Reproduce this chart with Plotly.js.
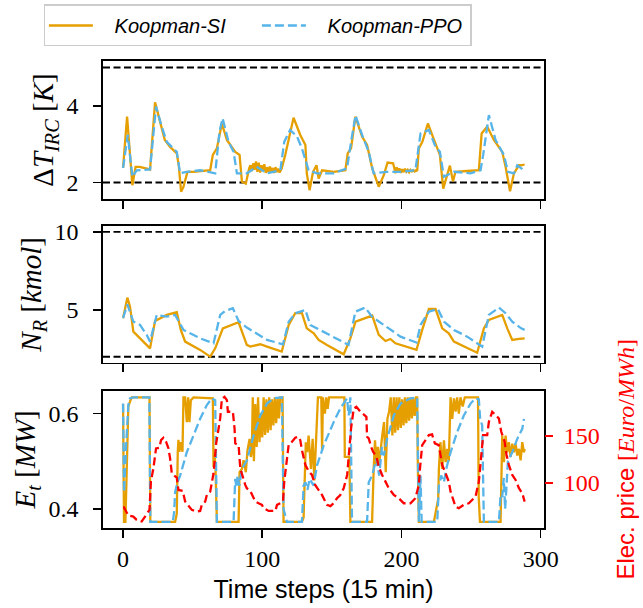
<!DOCTYPE html>
<html>
<head>
<meta charset="utf-8">
<script src="https://cdn.plot.ly/plotly-3.0.1.min.js"></script>
<style>html,body{margin:0;padding:0;background:#fff;}#chart{width:643px;height:608px;}</style>
</head>
<body>
<div id="chart"></div>
<script>
// ---- Data (time step, value) ----
const seriesNames = ['Koopman-SI', 'Koopman-PPO'];
const xTicks = [0, 100, 200, 300];
const dTLimits = [2, 5];
const nLimits = [2, 10];

const siDT = [[0,2.38],[2.9,3.72],[6.7,1.93],[9,2.41],[12,2.41],[19.4,2.34],[23,4.09],[26.6,3.59],[30,3.11],[33.8,2.93],[38.6,2.76],[40,2.45],[41.7,1.76],[43.4,1.89],[46.3,2.28],[50.6,2.28],[62.6,2.32],[64.5,2.72],[67.4,2.89],[71,3.54],[74.6,3.11],[80.6,2.80],[83.7,2.72],[85.4,2.02],[88.2,1.97],[90.6,2.37],[91.5,2.45],[92.5,2.30],[93.5,2.50],[94.5,2.33],[95.5,2.55],[96.5,2.28],[97.5,2.52],[98.5,2.26],[99.5,2.45],[100.5,2.30],[101.5,2.48],[102.5,2.25],[103.5,2.40],[104.5,2.27],[105.5,2.42],[106.5,2.28],[107.5,2.38],[108.5,2.25],[109.5,2.40],[110.5,2.27],[111.5,2.36],[112.5,2.26],[113.5,2.35],[114,2.37],[116.5,2.72],[122.5,3.69],[127.3,3.24],[131,2.98],[132,2.24],[134,1.80],[136.5,2.28],[139,2.45],[140.5,2.10],[143,2.32],[151.3,2.28],[159.7,2.32],[161.4,2.76],[163.8,2.89],[166.9,3.72],[171.7,3.20],[175.3,2.98],[179,2.37],[183.7,1.89],[187.3,2.19],[190,2.52],[194,2.50],[195.7,2.24],[196.5,2.40],[197.5,2.28],[198.5,2.37],[199.5,2.25],[200.5,2.35],[201.5,2.27],[202.5,2.36],[203.5,2.28],[204.5,2.33],[205.5,2.27],[206.5,2.33],[207.5,2.29],[208.5,2.32],[209.5,2.29],[210.5,2.32],[211.3,2.30],[212.5,2.89],[215,3.06],[219,3.54],[223,3.15],[227.6,2.72],[230,1.84],[232.9,2.19],[234.8,2.44],[237,2.03],[238.8,2.28],[247,2.30],[255.6,2.32],[257.6,3.28],[261.6,3.46],[266.4,3.11],[272.4,2.80],[274.8,2.41],[278,1.77],[280.8,2.24],[284.4,2.45],[286,2.45],[288.5,2.47]];

const ppoDT = [[0,2.38],[3.4,3.24],[6.7,2.15],[9.8,2.32],[19.4,2.34],[23.7,3.98],[27.8,3.46],[31.4,3.06],[38.6,2.80],[41,2.24],[45.8,2.28],[55.4,2.32],[66.2,2.24],[69.3,3.33],[71.5,3.68],[75.8,3.06],[79.4,2.80],[81.8,2.24],[89,2.24],[96,2.41],[103.4,2.24],[113,2.32],[115.8,3.06],[120,3.37],[125,3.20],[128.5,2.89],[133.3,2.32],[139.3,2.24],[151.3,2.24],[160.9,2.37],[163.8,3.06],[167,3.75],[171.7,3.24],[176.5,2.80],[180,2.24],[189.7,2.28],[199,2.28],[210,2.32],[213.7,3.28],[219.7,3.37],[224.5,2.93],[227.6,2.80],[230.5,2.15],[237.7,2.28],[249.6,2.24],[256.8,2.32],[258.7,2.72],[262.8,3.76],[267.6,3.11],[273.6,2.72],[276.5,2.28],[280.8,2.24],[283.2,2.45],[288,2.32]];

const siN = [[0,4.47],[3.1,5.79],[5,5.21],[7.4,3.61],[19.4,2.54],[23,4.29],[31.4,4.68],[38.6,4.85],[41.5,3.72],[44.6,2.97],[55.4,2.44],[62.6,2.01],[66.2,2.54],[71.7,3.82],[83,4.21],[88.9,2.76],[91.4,2.65],[95,2.72],[98.6,2.80],[103.4,2.65],[114,2.33],[119,4.04],[123.7,4.79],[128.5,4.79],[132,3.82],[137,3.50],[140.5,3.08],[146.5,2.76],[158.5,2.16],[163.3,3.18],[167,4.25],[179,4.64],[183.7,3.40],[188.5,3.01],[192,3.14],[195.7,2.86],[210.8,2.44],[214.9,3.72],[219.7,5.06],[224.5,5.06],[229.3,3.82],[234,3.50],[237.7,2.97],[254.4,2.26],[259.2,3.82],[262.8,4.36],[272.4,4.68],[276,3.82],[279.6,3.08],[284.4,3.14],[288.5,3.18]];

const ppoN = [[0,4.47],[3.1,5.36],[7.4,4.25],[12.2,4.04],[17,3.40],[19.4,2.97],[24.2,4.68],[31.4,4.57],[37.4,4.68],[43.4,3.72],[55.4,3.18],[65,2.86],[69.8,4.68],[73.4,4.94],[78.9,5.11],[83,4.29],[88.9,3.87],[103.4,3.08],[114.9,2.80],[119,4.25],[123.7,4.79],[131,5.00],[134.5,4.04],[146.5,3.50],[162,2.76],[166.9,4.89],[174,5.15],[178.8,4.57],[187.3,4.04],[199.3,3.29],[210.8,2.91],[213.7,4.04],[219.7,4.89],[226.2,5.06],[230.5,4.25],[237.7,3.72],[247.2,3.29],[258,2.65],[262.8,4.68],[270,5.15],[274.8,4.79],[279.6,4.25],[286,3.82],[288.5,3.72]];

const siE = [[0,0.62],[0.7,0.373],[1.7,0.373],[2.7,0.50],[3.8,0.615],[5,0.625],[6.2,0.634],[19,0.634],[19.6,0.373],[37.4,0.373],[38.6,0.39],[39.3,0.52],[39.8,0.545],[40.5,0.52],[41.5,0.54],[42.7,0.52],[43.4,0.634],[44.6,0.634],[45.8,0.582],[46.8,0.634],[47.7,0.582],[48.7,0.628],[50.6,0.634],[64.5,0.632],[65,0.488],[65.7,0.519],[66.4,0.488],[67.4,0.373],[83,0.373],[83.7,0.477],[85.4,0.484],[86.6,0.502],[88.2,0.477],[89.4,0.523],[90.9,0.547],[91.8,0.509],[92.5,0.52],[93.2,0.634],[94,0.50],[95,0.62],[96,0.53],[97,0.634],[98,0.54],[99,0.60],[100,0.55],[101,0.634],[102,0.555],[103,0.63],[104,0.56],[105,0.634],[106,0.565],[107,0.63],[108,0.575],[109,0.634],[110,0.58],[111,0.634],[112,0.59],[113,0.634],[114.6,0.634],[115.3,0.373],[128.5,0.373],[129.7,0.382],[130.5,0.456],[131.3,0.54],[132.3,0.519],[133.3,0.554],[135,0.484],[136.2,0.547],[137.4,0.460],[139.3,0.618],[140,0.634],[142.4,0.634],[143,0.523],[143.6,0.634],[145,0.60],[146,0.634],[147,0.61],[148,0.634],[159,0.634],[159.3,0.509],[162.6,0.509],[163.3,0.373],[178.9,0.373],[180.1,0.488],[181,0.544],[182,0.491],[183,0.53],[184,0.495],[185,0.526],[186.2,0.554],[187.5,0.582],[188.7,0.477],[189.9,0.589],[191.1,0.604],[192.3,0.634],[193.5,0.554],[194.5,0.634],[195.5,0.56],[196.5,0.634],[197.5,0.565],[198.5,0.634],[199.5,0.57],[200.5,0.63],[201.5,0.575],[202.5,0.634],[203.5,0.58],[204.5,0.634],[205.5,0.585],[206.5,0.634],[207.5,0.59],[208.5,0.634],[209.5,0.595],[210.5,0.634],[211.3,0.634],[211.8,0.484],[212.5,0.373],[223.3,0.373],[226.4,0.421],[226.9,0.484],[228,0.540],[229.3,0.484],[230.5,0.544],[231.7,0.498],[232.9,0.526],[234,0.50],[235.3,0.634],[236.5,0.589],[237.7,0.632],[238.9,0.604],[240,0.634],[241.2,0.60],[242.4,0.634],[244,0.615],[245.5,0.634],[255,0.634],[255.5,0.425],[256.4,0.373],[271.2,0.373],[272.4,0.554],[273.6,0.498],[274.8,0.554],[276,0.519],[277.2,0.54],[278.4,0.509],[279.6,0.537],[280.8,0.519],[282,0.537],[283.2,0.512],[284.4,0.526],[285.6,0.502],[286.8,0.54],[288,0.519],[288.5,0.526]];

const ppoE = [[0,0.621],[0.7,0.435],[2.2,0.533],[3.8,0.618],[5,0.632],[7.4,0.634],[18.9,0.634],[19.6,0.373],[35.7,0.373],[36.7,0.393],[37.4,0.435],[39.1,0.456],[41,0.470],[45.8,0.519],[50.6,0.554],[55.4,0.589],[60.2,0.618],[63.8,0.632],[66.2,0.628],[67.4,0.373],[79.4,0.373],[80.6,0.463],[81.5,0.445],[82.3,0.470],[83.5,0.449],[85.4,0.484],[89,0.502],[93.8,0.554],[98.6,0.596],[103.4,0.621],[108.2,0.632],[114.1,0.634],[115.3,0.400],[117.7,0.373],[128.5,0.373],[129.7,0.449],[131,0.456],[132.5,0.440],[134,0.463],[136.9,0.449],[139.3,0.491],[144.1,0.533],[151.3,0.582],[156.1,0.611],[160.9,0.632],[162.1,0.596],[163.3,0.634],[164.5,0.373],[175.3,0.373],[176.5,0.456],[178.9,0.470],[180.5,0.490],[182,0.505],[184,0.470],[186,0.530],[187.3,0.512],[189.7,0.547],[194.5,0.596],[199.3,0.621],[206.5,0.632],[211.3,0.634],[212.5,0.373],[213.7,0.470],[214.5,0.373],[225.7,0.373],[226.9,0.449],[228.5,0.470],[230.5,0.456],[232.5,0.488],[235.3,0.519],[240,0.561],[244.8,0.596],[249.6,0.621],[253.2,0.632],[255.6,0.630],[256.5,0.590],[258,0.575],[259.2,0.373],[270,0.373],[271.2,0.430],[272.4,0.425],[273.5,0.465],[274.5,0.400],[276.5,0.500],[279.6,0.519],[283.2,0.547],[286.8,0.568],[288,0.589]];

const price = [[0,74],[0.7,74],[3.8,65.5],[7.4,64.4],[9.8,60.9],[13.4,59.2],[15.8,64.4],[19,71.5],[20,101.4],[21.8,115.5],[23.7,136.6],[26.1,137.3],[27.3,145.4],[29,147.9],[30.9,143.7],[32.6,136.6],[33.8,126],[35,110.2],[36.2,108.5],[38.6,105.6],[39.8,92.6],[42.9,91.5],[44.6,80.3],[46.3,76.8],[49.4,71.5],[53,69.7],[55.4,70.4],[56.6,76.8],[59,80.3],[60.2,87.3],[62.6,90.8],[65,110.2],[66.9,141.9],[69.8,168.3],[71,189.4],[72.9,191.2],[74.6,187.7],[75.3,175.4],[78.9,175.4],[80.1,157.7],[80.6,141.9],[83,140.1],[84.2,115.5],[87.8,97.9],[88.9,94.4],[91.4,91.5],[95,80.3],[97.4,78.5],[99.8,76.8],[101,73.2],[104.6,70.4],[109.4,70.4],[110.6,76.8],[113,78.5],[114.9,80.3],[115.8,101.4],[117.3,122.5],[119,140.8],[121.4,143.7],[123.7,147.9],[126.1,148.9],[127.3,145.4],[128.5,134.9],[131,119],[133.3,112.7],[135.7,108.5],[138,97.9],[140.5,92.6],[142.9,87.3],[146.5,76.8],[149,75.5],[151.3,78.5],[153.7,83.8],[156.1,87.3],[158.5,94.4],[161,108.5],[162.8,140.1],[163.8,157.7],[165.7,178.9],[167.6,180.6],[170.5,175.4],[173,171.8],[174.8,170.1],[175.3,148.9],[176.5,147.2],[178.2,138.4],[179.6,133.1],[182,127.8],[183.7,117.3],[186.1,108.5],[188.5,101.4],[190.9,94.4],[194.5,87.3],[198.1,83.8],[201.7,78.5],[206.5,78.5],[210,83.8],[212.5,97.9],[213.2,113.7],[214.9,140.1],[217.3,145.4],[219.7,150.7],[222,151.4],[224,141.9],[226.8,140.1],[229.3,119],[231.7,110.2],[234,101.4],[235.3,90.8],[238.8,75],[241.2,73.2],[244.8,76.8],[248.4,78.5],[250.8,82],[253.2,85.6],[255.6,101.4],[256.8,122.5],[258.7,150.7],[261.6,150.7],[262.8,164.8],[265.2,175.4],[267.6,171.8],[270,168.3],[271.7,154.2],[274.1,143.7],[275.5,129.6],[277.2,119],[279.6,108.5],[282,103.2],[284.4,94.4],[286.8,89.1],[288.5,80.3]];

// ---- Styling ----
const ORANGE = '#E69F00', BLUE = '#56B4E9', RED = '#FF0000';
const SERIF = 'Liberation Serif, DejaVu Serif, serif';
const SANS = 'Liberation Sans, Arial, sans-serif';
const xs = a => a.map(p => p[0]);
const ys = a => a.map(p => p[1]);

function line(data, name, color, dash, xa, ya, show) {
  return {
    type: 'scatter', mode: 'lines', x: xs(data), y: ys(data),
    name: '&nbsp;&nbsp;&nbsp;<i>' + name + '</i>', legendgroup: name, showlegend: show,
    xaxis: xa, yaxis: ya,
    line: {color: color, width: 2.3, dash: dash},
    hoverinfo: 'skip'
  };
}
const SI_DASH = 'solid', PPO_DASH = '9px,4px';
const traces = [
  line(siDT, seriesNames[0], ORANGE, SI_DASH, 'x', 'y', true),
  line(ppoDT, seriesNames[1], BLUE, PPO_DASH, 'x', 'y', true),
  line(siN, seriesNames[0], ORANGE, SI_DASH, 'x2', 'y2', false),
  line(ppoN, seriesNames[1], BLUE, PPO_DASH, 'x2', 'y2', false),
  line(siE, seriesNames[0], ORANGE, SI_DASH, 'x3', 'y3', false),
  line(ppoE, seriesNames[1], BLUE, PPO_DASH, 'x3', 'y3', false),
  Object.assign(line(price, 'Elec. price', RED, '8px,4px', 'x3', 'y4', false), {name: 'Elec. price'})
];

const tickFont = {family: SERIF, size: 24, color: '#000'};
function xAxis(anchor, labels) {
  return {
    anchor: anchor, domain: [0, 1], range: [-14.4, 302.4],
    tickvals: xTicks, ticktext: xTicks.map(String), showticklabels: labels,
    ticks: 'outside', ticklen: 8, tickwidth: 1.6, tickcolor: '#000',
    showline: true, mirror: true, linecolor: '#000', linewidth: 1.8,
    showgrid: false, zeroline: false, tickfont: tickFont
  };
}
function yAxis(anchor, domain, range, tickvals, title) {
  return {
    anchor: anchor, domain: domain, range: range, tickvals: tickvals,
    ticks: 'outside', ticklen: 8, tickwidth: 1.6, tickcolor: '#000', ticklabelstandoff: 10,
    showline: true, mirror: true, linecolor: '#000', linewidth: 1.8,
    showgrid: false, zeroline: false, tickfont: tickFont,
    title: {text: title, font: {family: SERIF, size: 29, color: '#000'}, standoff: 4}
  };
}

const limitShapes = [];
dTLimits.forEach(v => limitShapes.push({type: 'line', xref: 'x domain', x0: 0, x1: 1, yref: 'y', y0: v, y1: v, layer: 'below', line: {color: '#000', width: 1.8, dash: '7px,3.5px'}}));
nLimits.forEach(v => limitShapes.push({type: 'line', xref: 'x2 domain', x0: 0, x1: 1, yref: 'y2', y0: v, y1: v, layer: 'below', line: {color: '#000', width: 1.8, dash: '7px,3.5px'}}));

const layout = {
  width: 643, height: 608,
  margin: {l: 103, r: 99, t: 61, b: 80, autoexpand: false},
  paper_bgcolor: '#fff', plot_bgcolor: '#fff',
  showlegend: true,
  legend: {
    orientation: 'h', x: -0.134, xanchor: 'left', y: 1.121, yanchor: 'top',
    font: {family: SANS, size: 20, color: '#000'},
    bordercolor: '#cccccc', borderwidth: 1.5, bgcolor: '#fff',
    itemwidth: 44, entrywidth: 154, entrywidthmode: 'pixels'
  },
  xaxis: xAxis('y', false),
  xaxis2: xAxis('y2', false),
  xaxis3: Object.assign(xAxis('y3', true), {title: {text: 'Time steps (15 min)', font: {family: SANS, size: 25, color: '#000'}, standoff: 10}}),
  yaxis: yAxis('x', [0.7045, 1], [1.57, 5.17], [2, 4], 'Δ<i>T</i><sub><i>IRC</i></sub> [<i>K</i>]'),
  yaxis2: yAxis('x2', [0.354, 0.6467], [1.62, 10.38], [5, 10], '<i>N</i><sub><i>R</i></sub> [<i>kmol</i>]'),
  yaxis3: Object.assign(yAxis('x3', [0, 0.294], [0.36, 0.648], [0.4, 0.6], '<i>E</i><sub><i>t</i></sub> [<i>MW</i>]'), {tickformat: '.1f'}),
  yaxis4: {
    overlaying: 'y3', anchor: 'x3', side: 'right', range: [52.3, 197.7], tickvals: [100, 150],
    ticks: 'outside', ticklen: 8, tickwidth: 1.6, tickcolor: RED, ticklabelstandoff: 6,
    showline: false, showgrid: false, zeroline: false,
    tickfont: {family: SERIF, size: 24, color: RED},
    title: {text: 'Elec. price <span style="font-family:Liberation Serif">[<i>Euro</i>/<i>MWh</i>]</span>', font: {family: SANS, size: 24, color: RED}, standoff: 18}
  },
  shapes: limitShapes
};

Plotly.newPlot('chart', traces, layout, {displayModeBar: false, staticPlot: true});
</script>
</body>
</html>
